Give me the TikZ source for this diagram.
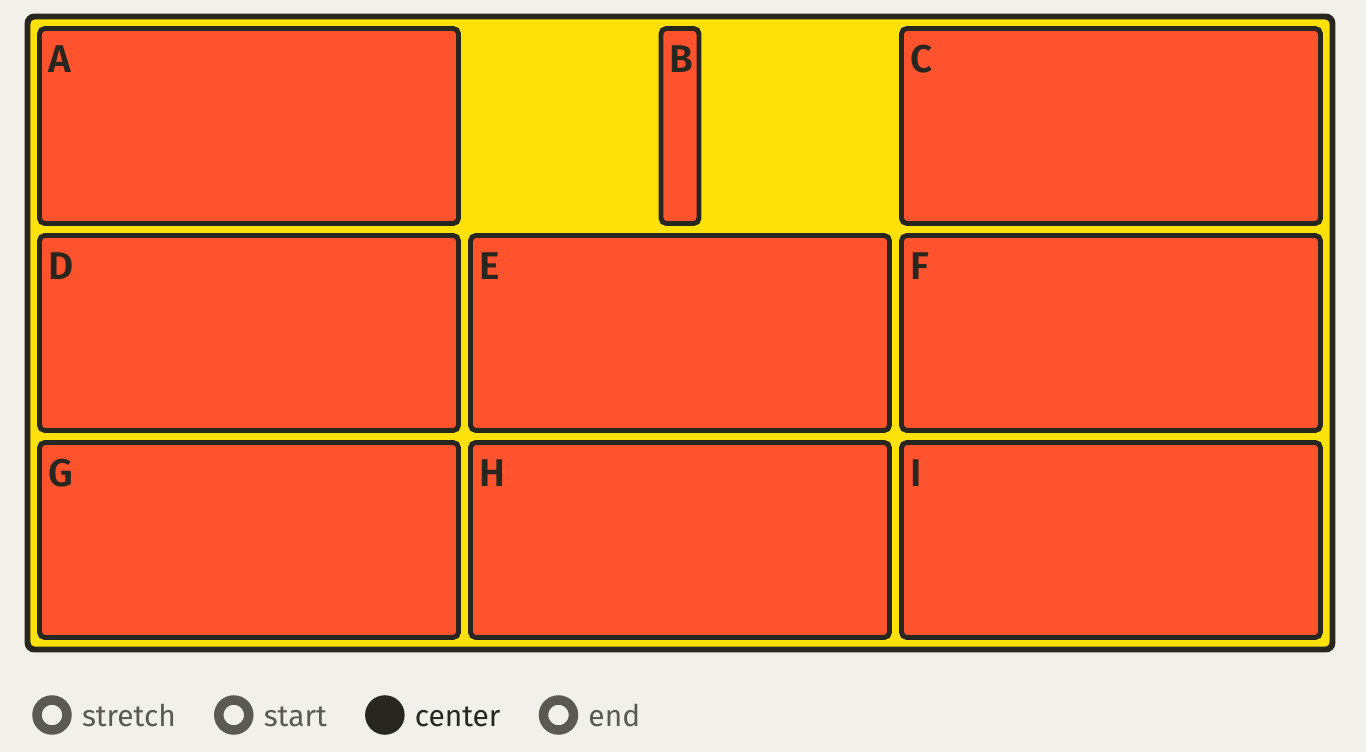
\documentclass[tikz,border=0pt]{standalone}
\usepackage{fontspec}
\setmainfont{Fira Sans}
\newfontfamily\tagfont{Fira Sans SemiBold}
\definecolor{pagebg}{HTML}{F2F0EB}
\definecolor{gridyellow}{HTML}{FFE10A}
\definecolor{itemred}{HTML}{FF532D}
\definecolor{inkdark}{HTML}{27261F}
\definecolor{ringgray}{HTML}{5B5A52}
\usetikzlibrary{positioning, calc, fit, backgrounds}
\tikzset{
	item/.style={rectangle, rounded corners=3pt, draw=inkdark, fill=itemred, line width=2.8pt, minimum width=8.38cm, minimum height=3.9cm, inner sep=0pt, outer sep=0pt},
	thinitem/.style={item, minimum width=0.76cm},
	tag/.style={anchor=north west, inner sep=0pt, outer sep=0pt, text=inkdark, font=\tagfont\fontsize{22}{22}\selectfont},
	container/.style={rectangle, rounded corners=4pt, draw=inkdark, fill=gridyellow, line width=3.4pt, inner sep=0.24cm, outer sep=0pt},
	radio/.style={circle, draw=ringgray, fill=pagebg, line width=5.4pt, minimum size=0.6cm, inner sep=0pt, outer sep=0pt},
	radioon/.style={radio, draw=inkdark, fill=inkdark},
	choice/.style={inner sep=0pt, outer sep=0pt, text height=0.44cm, text depth=0pt, text=ringgray, font=\fontsize{17}{17}\selectfont},
}

\begin{document}
\begin{tikzpicture}[node distance=0.24cm]
		\useasboundingbox (0,0) rectangle (27.32,-15.04);
		% grid items
		\node[item] (A) at (4.98,-2.52) {};
		\node[item, below=of A] (D) {};
		\node[item, right=of D] (E) {};
		\node[item, right=of E] (F) {};
		\node[item, below=of D] (G) {};
		\node[item, right=of G] (H) {};
		\node[item, right=of H] (I) {};
		\node[item, above=of F] (C) {};
		\node[thinitem] (B) at (A -| E) {};
		\node[tag] (tagA) at ([shift={(0.17,-0.34)}]A.north west) {A};
		\node[tag] (tagB) at ([shift={(0.17,-0.34)}]B.north west) {B};
		\node[tag] (tagC) at ([shift={(0.17,-0.34)}]C.north west) {C};
		\node[tag] (tagD) at ([shift={(0.17,-0.34)}]D.north west) {D};
		\node[tag] (tagE) at ([shift={(0.17,-0.34)}]E.north west) {E};
		\node[tag] (tagF) at ([shift={(0.17,-0.34)}]F.north west) {F};
		\node[tag] (tagG) at ([shift={(0.17,-0.34)}]G.north west) {G};
		\node[tag] (tagH) at ([shift={(0.17,-0.34)}]H.north west) {H};
		\node[tag] (tagI) at ([shift={(0.17,-0.34)}]I.north west) {I};
		\begin{scope}[on background layer]
			\fill[pagebg] (0,0) rectangle (27.32,-15.04);
			\node[container, fit=(A)(I)] (grid) {};
		\end{scope}
		% alignment options
		\node[radio] (optstretch) at (1.04,-14.30) {};
		\node[choice, right=0.3cm of optstretch] (lblstretch) {stretch};
		\node[radio, right=0.86cm of lblstretch] (optstart) {};
		\node[choice, right=0.3cm of optstart] (lblstart) {start};
		\node[radioon, right=0.86cm of lblstart] (optcenter) {};
		\node[choice, right=0.3cm of optcenter, text=inkdark] (lblcenter) {center};
		\node[radio, right=0.86cm of lblcenter] (optend) {};
		\node[choice, right=0.3cm of optend] (lblend) {end};
	\end{tikzpicture}
\end{document}
